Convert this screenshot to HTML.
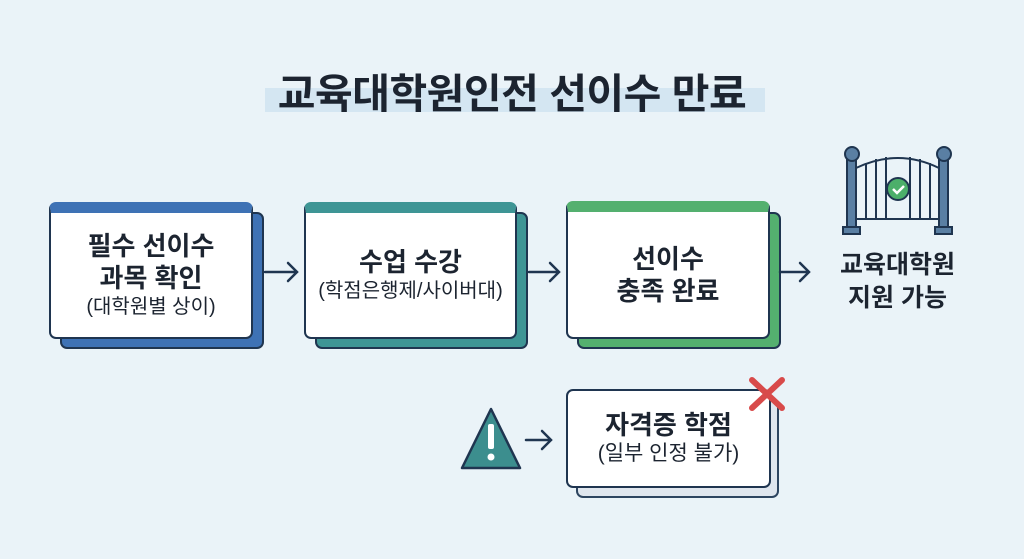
<!DOCTYPE html>
<html><head><meta charset="utf-8"><style>
body{margin:0;width:1024px;height:559px;background:#eaf3f8;font-family:"Liberation Sans","Noto Sans CJK KR",sans-serif;position:relative;overflow:hidden;color:#1c2430}
.t{position:absolute;left:0;width:1024px;top:60px;text-align:center;font-size:41px;font-weight:700;letter-spacing:-0.5px}
.hl{position:absolute;left:265px;top:88px;width:500px;height:24px;background:#d4e6f2}
.b{position:absolute;box-sizing:border-box;border:2.5px solid #1f3550;border-radius:7px}
.f{background:#fff;display:flex;flex-direction:column;justify-content:center;align-items:center;text-align:center;font-weight:700;font-size:26px;line-height:32px}
.s{font-weight:400;font-size:20px;line-height:27px}
.lbl{position:absolute;text-align:center;font-weight:700;font-size:25px;line-height:33px}
</style></head><body>
<div class="hl"></div>
<div class="t">교육대학원인전 선이수 만료</div>

<div class="b" style="left:60px;top:212px;width:204px;height:137px;background:#3e72b5"></div>
<div class="b f" style="left:49px;top:202px;width:204px;height:137px;border-top:11px solid #3e72b5">필수 선이수<br>과목 확인<span class="s">(대학원별 상이)</span></div>

<div class="b" style="left:315px;top:212px;width:213px;height:137px;background:#3e9595"></div>
<div class="b f" style="left:304px;top:202px;width:213px;height:137px;border-top:11px solid #3e9595">수업 수강<span class="s">(학점은행제/사이버대)</span></div>

<div class="b" style="left:577px;top:212px;width:204px;height:137px;background:#54b06f"></div>
<div class="b f" style="left:566px;top:201px;width:204px;height:138px;border-top:11px solid #54b06f">선이수<br>충족 완료</div>

<div class="b" style="left:576px;top:399px;width:203px;height:99px;background:#dfe6ee;border-color:#2d4560"></div>
<div class="b f" style="left:566px;top:389px;width:205px;height:99px;line-height:30px">자격증 학점<span class="s" style="font-size:21px">(일부 인정 불가)</span></div>

<div class="lbl" style="left:820px;top:249px;width:155px">교육대학원<br>지원 가능</div>

<svg width="1024" height="559" style="position:absolute;left:0;top:0">
<g stroke="#1f3550" stroke-width="2.5" fill="none" stroke-linecap="round">
<path d="M265 272H297M288 263l9 9-9 9"/>
<path d="M529 272H559M550 263l9 9-9 9"/>
<path d="M780 272H809M800 263l9 9-9 9"/>
<path d="M526 440H551M542 431l9 9-9 9"/>
</g>
<path d="M491 409L520 468H462Z" fill="#3c8e8e" stroke="#1f3550" stroke-width="2.5" stroke-linejoin="round"/>
<rect x="488" y="424" width="6" height="25" rx="2" fill="#fff"/><circle cx="491" cy="457" r="3.5" fill="#fff"/>
<g stroke="#d84a4a" stroke-width="6" stroke-linecap="round"><path d="M752 380L782 408M782 380L752 408"/></g>
<g fill="#5a7fa3" stroke="#1f3550" stroke-width="2">
<rect x="847" y="158" width="9" height="70"/><rect x="939" y="158" width="9" height="70"/>
<circle cx="852" cy="154" r="7"/><circle cx="944" cy="154" r="7"/>
<rect x="843" y="227" width="17" height="7"/><rect x="935" y="227" width="17" height="7"/>
</g>
<g stroke="#1f3550" stroke-width="2" fill="none">
<path d="M856 168Q898 148 939 168"/><path d="M856 219H939"/>
<path d="M866 163V219M876 159V219M886 157V219M910 157V219M920 159V219M930 163V219"/>
</g>
<circle cx="898" cy="189" r="11" fill="#4caf6a" stroke="#1f3550" stroke-width="2"/>
<path d="M893 189l4 4 7-7" stroke="#fff" stroke-width="2.5" fill="none"/>
</svg>
</body></html>
